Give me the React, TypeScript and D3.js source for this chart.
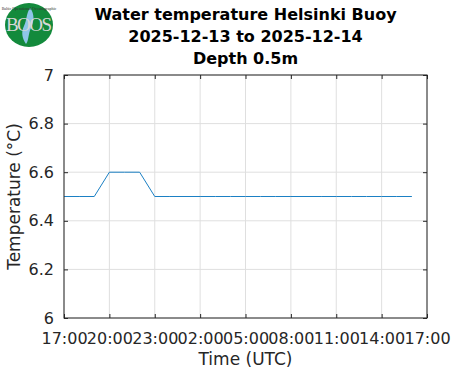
import { useEffect, useRef } from 'react'
import * as d3 from 'd3'

// hourly samples, 2025-12-13 17:00 -> 2025-12-14 16:00 (UTC)
const hours = [17, 18, 19, 20, 21, 22, 23, 0, 1, 2, 3, 4, 5, 6, 7, 8, 9, 10, 11, 12, 13, 14, 15, 16]
const temps = [6.5, 6.5, 6.5, 6.6, 6.6, 6.6, 6.5, 6.5, 6.5, 6.5, 6.5, 6.5, 6.5, 6.5, 6.5, 6.5, 6.5, 6.5, 6.5, 6.5, 6.5, 6.5, 6.5, 6.5]
const xTickLabels = ['17:00', '20:00', '23:00', '02:00', '05:00', '08:00', '11:00', '14:00', '17:00']
const yTicks = [6, 6.2, 6.4, 6.6, 6.8, 7]
const titleLines = ['Water temperature Helsinki Buoy', '2025-12-13 to 2025-12-14', 'Depth 0.5m']

const W = 471
const H = 371
const font = '"DejaVu Sans", sans-serif'
const ink = '#262626'

export default function App() {
  const ref = useRef<SVGSVGElement>(null)

  useEffect(() => {
    const margin = { top: 75, right: 44, bottom: 53, left: 64 }
    const width = W - margin.left - margin.right
    const height = H - margin.top - margin.bottom

    const root = d3.select(ref.current)
    root.selectAll('*').remove()

    // elapsed hours since start
    const data = hours.map((h, i) => ({ t: h >= 17 ? h - 17 : h + 7, v: temps[i] }))

    const x = d3.scaleLinear().domain([0, 24]).range([0, width])
    const y = d3.scaleLinear().domain([6, 7]).range([height, 0])
    const xTicks = xTickLabels.map((_, i) => i * 3)

    // logo
    const logo = root.append('g')
    logo.append('ellipse').attr('cx', 29).attr('cy', 25).attr('rx', 24).attr('ry', 22).attr('fill', '#138a3c')
    logo.append('path')
      .attr('d', 'M30,8 C26,14 27,20 24,26 C21,32 22,38 26,44 C29,40 28,34 31,28 C34,22 35,14 30,8 Z')
      .attr('fill', '#8fc6e8')
    logo.append('text').attr('x', 29).attr('y', 31).attr('text-anchor', 'middle')
      .style('font-family', '"Liberation Serif", serif').style('font-size', '19px')
      .attr('fill', '#d8d8d8').attr('textLength', 46).text('BOOS')
    logo.append('text').attr('x', 29).attr('y', 10).attr('text-anchor', 'middle')
      .style('font-family', '"Liberation Serif", serif').style('font-size', '4px')
      .attr('fill', '#333').text('Baltic Operational Oceanographic')

    // title
    root.append('g').selectAll('text').data(titleLines).join('text')
      .attr('x', margin.left + width / 2).attr('y', (_, i) => 20 + i * 22)
      .attr('text-anchor', 'middle')
      .style('font-family', font).style('font-size', '16px').style('font-weight', 'bold')
      .attr('fill', '#000').text(d => d)

    const g = root.append('g').attr('transform', `translate(${margin.left},${margin.top})`)
    g.append('rect').attr('width', width).attr('height', height).attr('fill', '#fff')

    // grid
    g.append('g').selectAll('line').data(xTicks).join('line')
      .attr('x1', d => x(d)).attr('x2', d => x(d)).attr('y1', 0).attr('y2', height)
      .attr('stroke', '#dfdfdf').attr('stroke-width', 1)
    g.append('g').selectAll('line').data(yTicks).join('line')
      .attr('y1', d => y(d)).attr('y2', d => y(d)).attr('x1', 0).attr('x2', width)
      .attr('stroke', '#dfdfdf').attr('stroke-width', 1)

    // series
    g.append('path').datum(data)
      .attr('fill', 'none').attr('stroke', '#1b80c4').attr('stroke-width', 1)
      .attr('d', d3.line<{ t: number; v: number }>().x(d => x(d.t)).y(d => y(d.v)))

    // axes (ticks inward, box on)
    const styleAxis = (sel: any) => {
      sel.selectAll('.domain').remove()
      sel.selectAll('line').attr('stroke', ink)
    }
    g.append('g').attr('transform', `translate(0,${height})`)
      .call(d3.axisBottom(x).tickValues(xTicks).tickSize(-4).tickPadding(15).tickFormat((_, i) => xTickLabels[i]))
      .call(styleAxis)
      .selectAll('text').attr('fill', ink).style('font-family', font).style('font-size', '16px')
    g.append('g')
      .call(d3.axisTop(x).tickValues(xTicks).tickSize(-4).tickFormat(() => ''))
      .call(styleAxis)
    g.append('g')
      .call(d3.axisLeft(y).tickValues(yTicks).tickSize(-4).tickPadding(10).tickFormat(d3.format('~g')))
      .call(styleAxis)
      .selectAll('text').attr('fill', ink).style('font-family', font).style('font-size', '16px')
    g.append('g').attr('transform', `translate(${width},0)`)
      .call(d3.axisRight(y).tickValues(yTicks).tickSize(-4).tickFormat(() => ''))
      .call(styleAxis)
    g.append('rect').attr('width', width).attr('height', height)
      .attr('fill', 'none').attr('stroke', ink).attr('stroke-width', 1)

    // axis labels
    root.append('text').attr('x', margin.left + width / 2).attr('y', H - 6)
      .attr('text-anchor', 'middle').attr('fill', ink)
      .style('font-family', font).style('font-size', '17px').text('Time (UTC)')
    root.append('text')
      .attr('transform', `translate(20,${margin.top + height / 2}) rotate(-90)`)
      .attr('text-anchor', 'middle').attr('fill', ink)
      .style('font-family', font).style('font-size', '17px').text('Temperature (°C)')
  }, [])

  return (
    <svg ref={ref} width={W} height={H} style={{ position: 'absolute', left: 0, top: 0, background: '#fff' }} />
  )
}
